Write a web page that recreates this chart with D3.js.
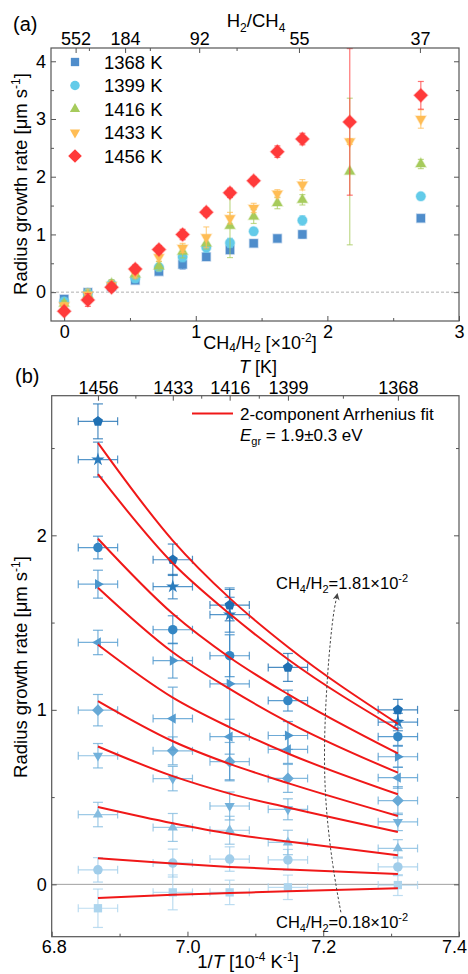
<!DOCTYPE html>
<html>
<head>
<meta charset="utf-8">
<script src="https://cdn.jsdelivr.net/npm/d3@7"></script>
<style>
  body { margin: 0; background: #fff; }
  text { font-family: "Liberation Sans", Arial, sans-serif; fill: #000; }
</style>
</head>
<body>
<div id="chart"></div>
<script>
// ---- data ----
// CH4/H2 ratio [x10^-2] of the runs
let ratio = [0, 0.18, 0.36, 0.54, 0.72, 0.90, 1.08, 1.26, 1.44, 1.62, 1.81, 2.17, 2.71]
let temps = [1368, 1399, 1416, 1433, 1456]
let tempLabels = ["1368 K", "1399 K", "1416 K", "1433 K", "1456 K"]

// radius growth rate [um/s] per temperature, same order as ratio
let rate1368 = [-0.12, -0.004, 0.10, 0.206, 0.358, 0.48, 0.611, 0.731, 0.846, 0.93, 1.00, null, 1.28]
let rate1399 = [-0.16, -0.017, 0.14, 0.24, 0.43, 0.607, 0.773, 0.853, 1.053, null, 1.243, null, 1.66]
let rate1416 = [-0.20, -0.046, 0.145, 0.31, 0.449, 0.703, 0.846, 1.149, 1.31, 1.545, 1.60, 2.09, 2.22]
let rate1433 = [-0.23, -0.046, 0.122, 0.326, 0.606, 0.765, 0.95, 1.282, 1.459, 1.706, 1.86, 2.61, 3.00]
let rate1456 = [-0.33, -0.137, 0.083, 0.40, 0.737, 0.998, 1.386, 1.72, 1.93, 2.434, 2.653, 2.95, 3.41]

// error bars (half width)
let err1368 = [0.05, 0.06, 0.05, 0.05, 0.05, 0.08, 0.06, 0.06, 0.05, 0.05, 0.06, null, 0.04]
let err1399 = [0.05, 0.07, 0.06, 0.07, 0.06, 0.08, 0.08, 0.08, 0.06, null, 0.08, null, 0.04]
let err1416 = [0.05, 0.07, 0.07, 0.08, 0.08, 0.11, 0.10, 0.55, 0.12, 0.10, 0.09, 1.27, 0.08]
let err1433 = [0.05, 0.10, 0.08, 0.08, 0.07, 0.08, 0.18, 0.10, 0.08, 0.07, 0.09, 0.05, 0.16]
let err1456 = [0.05, 0.11, 0.07, 0.07, 0.07, 0.09, 0.07, 0.08, 0.065, 0.10, 0.10, 1.27, 0.24]

let rates = [rate1368, rate1399, rate1416, rate1433, rate1456]
let errs = [err1368, err1399, err1416, err1433, err1456]

// top axis of (a): H2/CH4 labels and where they sit on the CH4/H2 axis
let topLabelsA = ["552", "184", "92", "55", "37"]
let topPosA = [0.087, 0.463, 1.026, 1.784, 2.703]
let topMinorA = [0.188, 0.651, 1.31]

// (b): 2-component Arrhenius fits, one per ratio 0.18..1.81, at temps 1456,1433,1416,1399,1368
let fitTemps = [1456, 1433, 1416, 1399, 1368]
let fit018 = [-0.078, -0.06, -0.05, -0.04, -0.023]
let fit036 = [0.15, 0.12, 0.10, 0.085, 0.059]
let fit054 = [0.443, 0.35, 0.29, 0.245, 0.167]
let fit072 = [0.79, 0.62, 0.52, 0.44, 0.30]
let fit090 = [1.05, 0.82, 0.69, 0.58, 0.392]
let fit108 = [1.373, 1.07, 0.90, 0.75, 0.516]
let fit126 = [1.70, 1.33, 1.12, 0.93, 0.64]
let fit144 = [1.98, 1.55, 1.30, 1.09, 0.75]
let fit162 = [2.35, 1.84, 1.55, 1.29, 0.887]
let fit181 = [2.53, 1.97, 1.64, 1.36, 0.92]
let fits = [fit018, fit036, fit054, fit072, fit090, fit108, fit126, fit144, fit162, fit181]

let colorsA = ["#4f8dcb", "#63cbe9", "#a6cb5c", "#ffbd55", "#ff3a3a"]
let shapesA = ["square", "circle", "up", "down", "diamond"]
// (b) series for ratio index 1..10
let shapesB = ["square", "circle", "up", "down", "diamond", "left", "right", "circle", "star", "pentagon"]
let colorsB = ["#add5ee", "#a0cdea", "#86bde0", "#72b1db", "#67a9d6", "#559dd1", "#4a95cc", "#3386c4", "#2a7cbd", "#1f70b3"]

let xErrB = 0.029   // 1/T uncertainty, 1e-4 K^-1

// ---- setup ----
let svg = d3.select("#chart").append("svg")
  .attr("width", 468)
  .attr("height", 974)

let frameColor = "#555"

function poly(n, R, rot) {
  let pts = d3.range(n).map(i => {
    let a = (rot + i * 360 / n) * Math.PI / 180
    return [R * Math.cos(a), R * Math.sin(a)]
  })
  return "M" + pts.map(p => p[0].toFixed(2) + "," + p[1].toFixed(2)).join("L") + "Z"
}

function shapePath(shape, s) {
  if (shape == "square") return poly(4, s * 0.62, 45)
  if (shape == "circle") return d3.symbol(d3.symbolCircle, Math.PI * (s * 0.5) ** 2)()
  if (shape == "up") return poly(3, s * 0.62, -90)
  if (shape == "down") return poly(3, s * 0.62, 90)
  if (shape == "left") return poly(3, s * 0.62, 180)
  if (shape == "right") return poly(3, s * 0.62, 0)
  if (shape == "diamond") return poly(4, s * 0.62, 0)
  if (shape == "pentagon") return poly(5, s * 0.56, -90)
  if (shape == "star") return d3.symbol(d3.symbolStar, s * s * 0.55)()
}

function styleAxis(g, size) {
  g.select(".domain").remove()
  g.selectAll("line").attr("stroke", frameColor).attr("stroke-width", 1)
  g.selectAll("text").attr("font-size", size || 18).attr("fill", "#000")
    .attr("font-family", "Liberation Sans, Arial, sans-serif")
}

// ================= panel (a) =================
let aBox = {left: 51, right: 459, top: 48, bottom: 321}
let xA = d3.scaleLinear().domain([-0.1, 3]).range([aBox.left, aBox.right])
let yA = d3.scaleLinear().domain([-0.5, 4.23]).range([aBox.bottom, aBox.top])

let pa = svg.append("g")

pa.append("line")
  .attr("x1", aBox.left).attr("x2", aBox.right)
  .attr("y1", yA(0)).attr("y2", yA(0))
  .attr("stroke", "#9a9a9a").attr("stroke-width", 0.8)
  .attr("stroke-dasharray", "3,2")

// axes
pa.append("g").attr("transform", "translate(0," + aBox.bottom + ")")
  .call(d3.axisBottom(xA).tickValues([0, 1, 2, 3]).tickSize(-5).tickPadding(4).tickFormat(d3.format("d")))
  .call(styleAxis)
pa.append("g").attr("transform", "translate(0," + aBox.bottom + ")")
  .call(d3.axisBottom(xA).tickValues([0.5, 1.5, 2.5]).tickSize(-3).tickFormat(""))
  .call(styleAxis)
pa.append("g").attr("transform", "translate(0," + aBox.top + ")")
  .call(d3.axisTop(xA).tickValues(topPosA).tickSize(-5).tickPadding(3).tickFormat((d, i) => topLabelsA[i]))
  .call(styleAxis)
pa.append("g").attr("transform", "translate(0," + aBox.top + ")")
  .call(d3.axisTop(xA).tickValues(topMinorA).tickSize(-3).tickFormat(""))
  .call(styleAxis)
pa.append("g").attr("transform", "translate(" + aBox.left + ",0)")
  .call(d3.axisLeft(yA).tickValues([0, 1, 2, 3, 4]).tickSize(-5).tickPadding(5).tickFormat(d3.format("d")))
  .call(styleAxis)
pa.append("g").attr("transform", "translate(" + aBox.left + ",0)")
  .call(d3.axisLeft(yA).tickValues([0.5, 1.5, 2.5, 3.5]).tickSize(-3).tickFormat(""))
  .call(styleAxis)
pa.append("g").attr("transform", "translate(" + aBox.right + ",0)")
  .call(d3.axisRight(yA).tickValues([0, 1, 2, 3, 4]).tickSize(-5).tickFormat(""))
  .call(styleAxis)
pa.append("g").attr("transform", "translate(" + aBox.right + ",0)")
  .call(d3.axisRight(yA).tickValues([0.5, 1.5, 2.5, 3.5]).tickSize(-3).tickFormat(""))
  .call(styleAxis)

// error bars and points, low temperature first so red sits on top
temps.forEach((t, k) => {
  let pts = ratio.map((r, i) => ({x: r, y: rates[k][i], e: errs[k][i]})).filter(d => d.y != null)
  let eg = pa.append("g").attr("stroke", colorsA[k]).attr("stroke-opacity", 0.7).attr("stroke-width", 1.2)
  pts.forEach(d => {
    eg.append("line").attr("x1", xA(d.x)).attr("x2", xA(d.x)).attr("y1", yA(d.y - d.e)).attr("y2", yA(d.y + d.e))
    eg.append("line").attr("x1", xA(d.x) - 3).attr("x2", xA(d.x) + 3).attr("y1", yA(d.y - d.e)).attr("y2", yA(d.y - d.e))
    eg.append("line").attr("x1", xA(d.x) - 3).attr("x2", xA(d.x) + 3).attr("y1", yA(d.y + d.e)).attr("y2", yA(d.y + d.e))
  })
  pa.append("g").selectAll("path").data(pts).enter().append("path")
    .attr("d", shapePath(shapesA[k], k == 4 ? 11 : 9.5))
    .attr("transform", d => "translate(" + xA(d.x) + "," + yA(d.y) + ")")
    .attr("fill", colorsA[k])
    .attr("stroke", colorsA[k]).attr("stroke-opacity", 0.35).attr("stroke-width", 1.5)
})

pa.append("rect")
  .attr("x", aBox.left).attr("y", aBox.top)
  .attr("width", aBox.right - aBox.left).attr("height", aBox.bottom - aBox.top)
  .attr("fill", "none").attr("stroke", frameColor).attr("stroke-width", 1.2)

// legend
tempLabels.forEach((lab, k) => {
  let ly = 62 + k * 23.5
  pa.append("path").attr("d", shapePath(shapesA[k], k == 4 ? 11 : 9.5))
    .attr("transform", "translate(75," + ly + ")").attr("fill", colorsA[k])
  pa.append("text").attr("x", 104).attr("y", ly + 6.5).attr("font-size", 18.5).text(lab)
})

// titles
pa.append("text").attr("x", 13).attr("y", 31).attr("font-size", 20).text("(a)")

let tA = pa.append("text").attr("x", 256).attr("y", 27).attr("font-size", 18.5).attr("text-anchor", "middle")
tA.append("tspan").text("H")
tA.append("tspan").attr("font-size", 12).attr("dy", 5).text("2")
tA.append("tspan").attr("dy", -5).text("/CH")
tA.append("tspan").attr("font-size", 12).attr("dy", 5).text("4")

let bA = pa.append("text").attr("x", 260).attr("y", 349).attr("font-size", 18).attr("text-anchor", "middle")
bA.append("tspan").text("CH")
bA.append("tspan").attr("font-size", 12).attr("dy", 3).text("4")
bA.append("tspan").attr("dy", -3).text("/H")
bA.append("tspan").attr("font-size", 12).attr("dy", 3).text("2")
bA.append("tspan").attr("dy", -3).text(" [\u00d710")
bA.append("tspan").attr("font-size", 12).attr("dy", -7).text("-2")
bA.append("tspan").attr("dy", 7).text("]")

function yLabel(g, cx, cy) {
  let t = g.append("text").attr("font-size", 18.5).attr("text-anchor", "middle")
    .attr("transform", "translate(" + cx + "," + cy + ") rotate(-90)")
  t.append("tspan").text("Radius growth rate [\u03bcm s")
  t.append("tspan").attr("font-size", 12).attr("dy", -7).text("-1")
  t.append("tspan").attr("dy", 7).text("]")
}
yLabel(pa, 27, 184)

// ================= panel (b) =================
let bBox = {left: 51.7, right: 459, top: 395.7, bottom: 936.7}
let xB = d3.scaleLinear().domain([6.8, 7.4]).range([bBox.left, bBox.right])
let yB = d3.scaleLinear().domain([-0.3, 2.8]).range([bBox.bottom, bBox.top])

let pb = svg.append("g")

pb.append("line")
  .attr("x1", bBox.left).attr("x2", bBox.right)
  .attr("y1", yB(0)).attr("y2", yB(0))
  .attr("stroke", "#a0a0a0").attr("stroke-width", 1)

let invT = temps.map(t => 1e4 / t)
let invSorted = invT.slice().sort(d3.ascending)
let midT = d3.range(invSorted.length - 1).map(i => (invSorted[i] + invSorted[i + 1]) / 2)

pb.append("g").attr("transform", "translate(0," + bBox.bottom + ")")
  .call(d3.axisBottom(xB).tickValues([6.8, 7.0, 7.2, 7.4]).tickSize(-5).tickPadding(4).tickFormat(d3.format(".1f")))
  .call(styleAxis)
  .selectAll(".tick text").attr("dx", (d, i) => i == 3 ? -5 : (i == 0 ? 2 : 0))
pb.append("g").attr("transform", "translate(0," + bBox.bottom + ")")
  .call(d3.axisBottom(xB).tickValues([6.9, 7.1, 7.3]).tickSize(-3).tickFormat(""))
  .call(styleAxis)
pb.append("g").attr("transform", "translate(0," + bBox.top + ")")
  .call(d3.axisTop(xB).tickValues(invT).tickSize(-5).tickPadding(2).tickFormat(d => Math.round(1e4 / d)))
  .call(styleAxis)
pb.append("g").attr("transform", "translate(0," + bBox.top + ")")
  .call(d3.axisTop(xB).tickValues(midT).tickSize(-3).tickFormat(""))
  .call(styleAxis)
pb.append("g").attr("transform", "translate(" + bBox.left + ",0)")
  .call(d3.axisLeft(yB).tickValues([0, 1, 2]).tickSize(-5).tickPadding(5).tickFormat(d3.format("d")))
  .call(styleAxis)
pb.append("g").attr("transform", "translate(" + bBox.left + ",0)")
  .call(d3.axisLeft(yB).tickValues([0.5, 1.5, 2.5]).tickSize(-3).tickFormat(""))
  .call(styleAxis)
pb.append("g").attr("transform", "translate(" + bBox.right + ",0)")
  .call(d3.axisRight(yB).tickValues([0, 1, 2]).tickSize(-5).tickFormat(""))
  .call(styleAxis)
pb.append("g").attr("transform", "translate(" + bBox.right + ",0)")
  .call(d3.axisRight(yB).tickValues([0.5, 1.5, 2.5]).tickSize(-3).tickFormat(""))
  .call(styleAxis)

// data: one series per ratio 0.18..1.81 (index 1..10 of ratio)
d3.range(1, 11).forEach(i => {
  let s = i - 1
  let pts = temps.map((t, k) => ({x: 1e4 / t, y: rates[k][i], e: errs[k][i]})).filter(d => d.y != null)
  let eg = pb.append("g").attr("stroke", colorsB[s]).attr("stroke-opacity", 0.8).attr("stroke-width", 1.2)
  pts.forEach(d => {
    let cx = xB(d.x), cy = yB(d.y)
    let x0 = xB(d.x - xErrB), x1 = xB(d.x + xErrB)
    let y0 = yB(d.y - d.e), y1 = yB(d.y + d.e)
    eg.append("line").attr("x1", x0).attr("x2", x1).attr("y1", cy).attr("y2", cy)
    eg.append("line").attr("x1", x0).attr("x2", x0).attr("y1", cy - 4).attr("y2", cy + 4)
    eg.append("line").attr("x1", x1).attr("x2", x1).attr("y1", cy - 4).attr("y2", cy + 4)
    eg.append("line").attr("x1", cx).attr("x2", cx).attr("y1", y0).attr("y2", y1)
    eg.append("line").attr("x1", cx - 5).attr("x2", cx + 5).attr("y1", y0).attr("y2", y0)
    eg.append("line").attr("x1", cx - 5).attr("x2", cx + 5).attr("y1", y1).attr("y2", y1)
  })
  pb.append("g").selectAll("path").data(pts).enter().append("path")
    .attr("d", shapePath(shapesB[s], shapesB[s] == "star" ? 10 : 9.5))
    .attr("transform", d => "translate(" + xB(d.x) + "," + yB(d.y) + ")")
    .attr("fill", colorsB[s])
})

// fits
let fitLine = d3.line()
  .x(d => xB(d[0]))
  .y(d => yB(d[1]))
  .curve(d3.curveMonotoneX)
fits.forEach(f => {
  let pts = fitTemps.map((t, j) => [1e4 / t, f[j]]).sort((a, b) => a[0] - b[0])
  pb.append("path").attr("d", fitLine(pts))
    .attr("fill", "none").attr("stroke", "#f01818").attr("stroke-width", 2)
})

pb.append("rect")
  .attr("x", bBox.left).attr("y", bBox.top)
  .attr("width", bBox.right - bBox.left).attr("height", bBox.bottom - bBox.top)
  .attr("fill", "none").attr("stroke", frameColor).attr("stroke-width", 1.2)

// legend
pb.append("line").attr("x1", 192).attr("x2", 233).attr("y1", 413.5).attr("y2", 413.5)
  .attr("stroke", "#f01818").attr("stroke-width", 2)
pb.append("text").attr("x", 240).attr("y", 420).attr("font-size", 17).text("2-component Arrhenius fit")
let eg = pb.append("text").attr("x", 240).attr("y", 441).attr("font-size", 17)
eg.append("tspan").attr("font-style", "italic").text("E")
eg.append("tspan").attr("font-size", 11).attr("dy", 4).text("gr")
eg.append("tspan").attr("dy", -4).text(" = 1.9\u00b10.3 eV")

// annotations
function ratioNote(g, x, y, val) {
  let t = g.append("text").attr("x", x).attr("y", y).attr("font-size", 16.5)
  t.append("tspan").text("CH")
  t.append("tspan").attr("font-size", 11).attr("dy", 4).text("4")
  t.append("tspan").attr("dy", -4).text("/H")
  t.append("tspan").attr("font-size", 11).attr("dy", 4).text("2")
  t.append("tspan").attr("dy", -4).text("=" + val + "\u00d710")
  t.append("tspan").attr("font-size", 11).attr("dy", -7).text("-2")
}
ratioNote(pb, 276, 589, "1.81")
ratioNote(pb, 276, 928, "0.18")

svg.append("defs").append("marker")
  .attr("id", "arrow").attr("viewBox", "0 0 10 10").attr("refX", 5).attr("refY", 5)
  .attr("markerWidth", 7).attr("markerHeight", 7).attr("orient", "auto")
  .append("path").attr("d", "M0,0L10,5L0,10L3,5Z").attr("fill", "#444")

let arrowPts = [[7.226, -0.16], [7.214, 0.09], [7.200, 0.55], [7.203, 1.06], [7.213, 1.52], [7.220, 1.65]]
pb.append("path")
  .attr("d", d3.line().x(d => xB(d[0])).y(d => yB(d[1])).curve(d3.curveBasis)(arrowPts))
  .attr("fill", "none").attr("stroke", "#444").attr("stroke-width", 1)
  .attr("stroke-dasharray", "2.5,2").attr("marker-end", "url(#arrow)")

// titles
pb.append("text").attr("x", 15).attr("y", 383).attr("font-size", 20).text("(b)")

let tB = pb.append("text").attr("x", 258).attr("y", 373).attr("font-size", 18).attr("text-anchor", "middle")
tB.append("tspan").attr("font-style", "italic").text("T")
tB.append("tspan").text(" [K]")

let bB = pb.append("text").attr("x", 248).attr("y", 968).attr("font-size", 18.5).attr("text-anchor", "middle")
bB.append("tspan").text("1/")
bB.append("tspan").attr("font-style", "italic").text("T")
bB.append("tspan").text(" [10")
bB.append("tspan").attr("font-size", 12).attr("dy", -7).text("-4")
bB.append("tspan").attr("dy", 7).text(" K")
bB.append("tspan").attr("font-size", 12).attr("dy", -7).text("-1")
bB.append("tspan").attr("dy", 7).text("]")

yLabel(pb, 27, 667)
</script>
</body>
</html>
